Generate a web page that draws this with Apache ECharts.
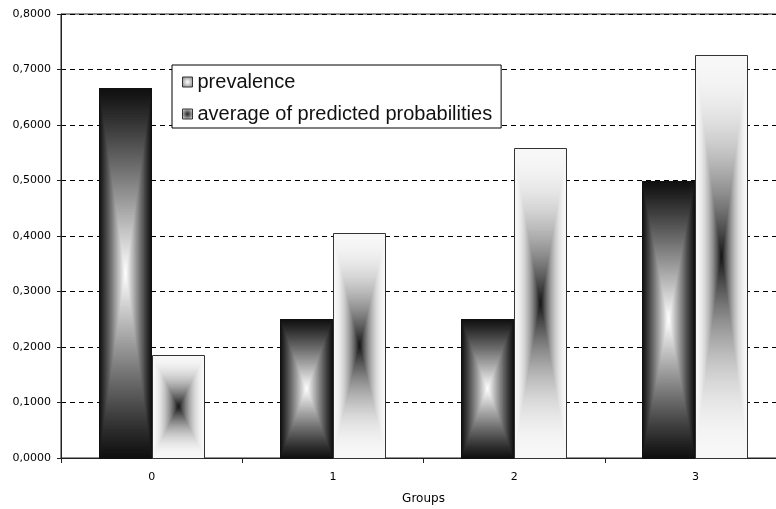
<!DOCTYPE html>
<html><head><meta charset="utf-8">
<script src="https://cdn.jsdelivr.net/npm/echarts@6/dist/echarts.min.js"></script>
<style>html,body{margin:0;padding:0;background:#fff}#c{width:776px;height:509px}</style>
</head><body><div id="c"></div>
<script>
const categories = ['0', '1', '2', '3'];
const prevalence = [0.6667, 0.25, 0.25, 0.5];
const avgPredicted = [0.185, 0.4057, 0.558, 0.727];
const yTicks = [0, 0.1, 0.2, 0.3, 0.4, 0.5, 0.6, 0.7, 0.8];
const yTickLabels = ['0,0000', '0,1000', '0,2000', '0,3000', '0,4000', '0,5000', '0,6000', '0,7000', '0,8000'];
const seriesNames = ['prevalence', 'average of predicted probabilities'];
const xAxisTitle = 'Groups';

function grey(l) {
  const v = Math.round(Math.max(0, Math.min(1, l)) * 255);
  return 'rgb(' + v + ',' + v + ',' + v + ')';
}
function prevShade(t) { return 0.06 + 0.94 * Math.pow(t, 1.1); }
function avgShade(t) { return 0.97 - 0.88 * t * t; }

function makeRender(side, shade, stroke) {
  return function (params, api) {
    const cat = api.value(0), val = api.value(1);
    const top = api.coord([cat, val]);
    const base = api.coord([cat, 0]);
    const band = api.size([1, 0])[0];
    const w = Math.round(band * 0.29);
    const cx = Math.round(top[0]);
    const x0 = side < 0 ? cx - w : cx;
    const y0 = Math.round(top[1]);
    const h = Math.round(base[1]) - y0;
    const n = Math.max(30, Math.ceil(h / 1.2));
    const children = [];
    for (let k = 0; k < n; k++) {
      const t = k / n;
      children.push({
        type: 'rect', silent: true,
        shape: { x: x0 + t * w / 2, y: y0 + t * h / 2, width: w * (1 - t), height: h * (1 - t) },
        style: { fill: grey(shade(t + 0.5 / n)) }
      });
    }
    children.push({
      type: 'rect', silent: true,
      shape: { x: x0 + 0.5, y: y0 + 0.5, width: w - 1, height: h },
      style: { fill: 'none', stroke: stroke, lineWidth: 1 }
    });
    return { type: 'group', children: children };
  };
}

const chart = echarts.init(document.getElementById('c'), null, { renderer: 'canvas' });
chart.setOption({
  animation: false,
  backgroundColor: '#fff',
  grid: { left: 61, top: 14, width: 725, height: 444, outerBoundsMode: 'none', containLabel: false, show: true, borderColor: '#222', borderWidth: 1, backgroundColor: 'transparent' },
  legend: {
    orient: 'vertical', left: 172, top: 65,
    padding: [7, 9, 4, 10], itemGap: 12, itemWidth: 10, itemHeight: 10,
    backgroundColor: '#fff', borderColor: '#000', borderWidth: 1, borderRadius: 0,
    textStyle: { fontFamily: 'Liberation Sans', fontSize: 20, color: '#111' },
    data: [
      { name: seriesNames[0], icon: 'rect', itemStyle: { color: { type: 'radial', x: 0.5, y: 0.5, r: 0.6, colorStops: [{ offset: 0, color: '#fff' }, { offset: 1, color: '#888' }] }, borderColor: '#333', borderWidth: 1 } },
      { name: seriesNames[1], icon: 'rect', itemStyle: { color: { type: 'radial', x: 0.5, y: 0.5, r: 0.6, colorStops: [{ offset: 0, color: '#222' }, { offset: 1, color: '#ddd' }] }, borderColor: '#333', borderWidth: 1 } }
    ]
  },
  xAxis: {
    type: 'category', data: categories,
    name: xAxisTitle, nameLocation: 'middle', nameGap: 35,
    nameTextStyle: { fontFamily: 'DejaVu Sans', fontSize: 12, color: '#000' },
    axisLine: { lineStyle: { color: '#222', width: 1 } },
    axisTick: { show: true, length: 5, lineStyle: { color: '#222' } },
    axisLabel: { margin: 14, fontFamily: 'DejaVu Sans', fontSize: 11, color: '#000' },
    splitLine: { show: false }
  },
  yAxis: {
    type: 'value', min: yTicks[0], max: yTicks[yTicks.length - 1], interval: 0.1,
    axisLine: { show: true, lineStyle: { color: '#222', width: 1 } },
    axisTick: { show: true, length: 4, lineStyle: { color: '#222' } },
    axisLabel: {
      margin: 10, fontFamily: 'DejaVu Sans', fontSize: 11, color: '#000',
      formatter: function (v, i) { return yTickLabels[i]; }
    },
    splitLine: { show: true, lineStyle: { color: '#000', type: [5, 4], width: 1 } }
  },
  series: [
    {
      name: seriesNames[0], type: 'custom', renderItem: makeRender(-1, prevShade, '#111'),
      itemStyle: { color: '#bbb' }, encode: { x: 0, y: 1 },
      data: prevalence.map(function (v, i) { return [i, v]; })
    },
    {
      name: seriesNames[1], type: 'custom', renderItem: makeRender(1, avgShade, '#333'),
      itemStyle: { color: '#555' }, encode: { x: 0, y: 1 },
      data: avgPredicted.map(function (v, i) { return [i, v]; })
    }
  ]
});
</script>
</body></html>
